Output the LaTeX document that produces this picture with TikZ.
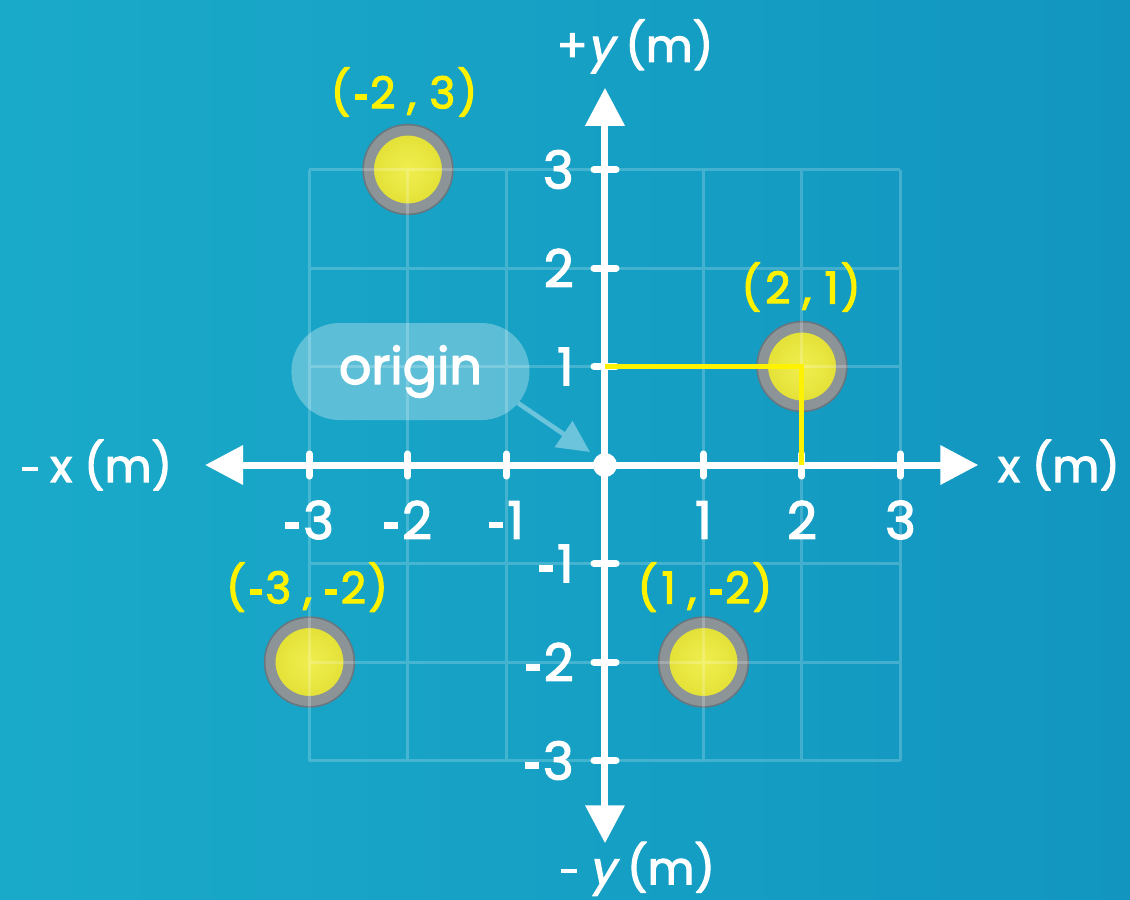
\documentclass[tikz,border=0pt]{standalone}
\usepackage{fontspec}
\setmainfont{Poppins}[FakeBold=2.6]
\newfontfamily\basefont{Poppins}[FakeBold=2.6]
\newfontfamily\coordfont{Poppins}[FakeBold=2.6]
\newfontfamily\slfont{Poppins}[FakeSlant=0.2,FakeBold=2.6]
\newcommand\hy{\rule[0.2em]{0.27em}{0.13em}\kern0.08em}
\newcommand\mdash{\rule[0.24em]{0.36em}{0.085em}}
\newcommand\cpair[2]{(\kern3pt#1\kern9pt,\kern10pt#2\kern1.5pt)}
\usetikzlibrary{arrows.meta}
\definecolor{bgL}{RGB}{26,170,201}
\definecolor{bgR}{RGB}{18,150,192}
\definecolor{ylab}{RGB}{255,242,0}
\definecolor{ballYL}{RGB}{240,238,80}
\definecolor{ballYD}{RGB}{226,224,52}
\definecolor{ringG}{RGB}{140,148,152}
\definecolor{ringD}{RGB}{105,118,126}
\definecolor{ptrC}{RGB}{108,196,220}
\begin{document}
\begin{tikzpicture}[x=73.875pt,y=73.875pt,
  gridline/.style={draw=white, draw opacity=0.2, line width=2.25pt},
  axisline/.style={draw=white, line width=5.25pt},
  tickmark/.style={draw=white, line width=5.25pt, line cap=round},
  ticklab/.style={text=white, inner sep=0pt, font=\basefont\fontsize{39}{40}\selectfont},
  axlab/.style={text=white, inner sep=0pt, font=\basefont\fontsize{34}{36}\selectfont},
  coordlab/.style={text=ylab, inner sep=0pt, font=\coordfont\fontsize{33}{34}\selectfont},
  ball/.style={circle, inner sep=0pt, minimum size=58.5pt, draw=ringG, line width=7.5pt,
    preaction={draw=ringD, line width=10pt}, inner color=ballYL, outer color=ballYD},
  yline/.style={draw=ylab, line width=3.75pt},
  bubble/.style={rounded corners=36pt, minimum width=178.5pt, minimum height=72.75pt,
    fill=white, fill opacity=0.3, text opacity=1, text=white, font=\basefont\fontsize{38}{40}\selectfont},
  ptr/.style={draw=ptrC, line width=3.5pt, -{Triangle[length=24pt,width=23pt]}}
]
\useasboundingbox (-6.142,-4.416) rectangle (5.330,4.721);
\shade[left color=bgL,right color=bgR] (-6.142,-4.416) rectangle (5.330,4.721);

% balls
\node[ball] (bA) at (-2,3) {};
\node[ball] (bB) at (2,1) {};
\node[ball] (bC) at (-3,-2) {};
\node[ball] (bD) at (1,-2) {};

% origin bubble
\node[bubble] (orig) at (-1.975,0.949) {origin};

% grid
\draw[gridline, step=1] (-3,-3) grid (3,3);

% pointer
\coordinate (ps) at (-0.883,0.629);
\coordinate (pt) at (-0.152,0.132);
\draw[ptr] (ps) -- (pt);

% axes
\coordinate (xl) at (-4.06,0);
\coordinate (xr) at (3.79,0);
\coordinate (yt) at (0,3.83);
\coordinate (yb) at (0,-3.84);
\draw[axisline, {Triangle[length=28.5pt,width=28.5pt]}-{Triangle[length=28.5pt,width=28.5pt]}] (xl) -- (xr);
\draw[axisline, {Triangle[length=28.5pt,width=28.5pt]}-{Triangle[length=28.5pt,width=28.5pt]}] (yb) -- (yt);

% ticks
\foreach \i in {-3,-2,-1,1,2,3}{
  \draw[tickmark] (\i,-0.112) -- (\i,0.112);
  \draw[tickmark] (-0.112,\i) -- (0.112,\i);
}

% yellow guide lines
\coordinate (y1) at (0,1);
\coordinate (x2) at (2,0);
\draw[yline] (y1) -- (bB.center) -- (x2);

% origin dot
\node[circle, fill=white, minimum size=18pt, inner sep=0pt] (O) at (0,0) {};

% tick labels
\node[ticklab] (tx1) at (-3,-0.558) {\hy3};
\node[ticklab] (tx2) at (-2,-0.558) {\hy2};
\node[ticklab] (tx3) at (-1,-0.558) {\hy1};
\node[ticklab] (tx4) at (1,-0.558) {1};
\node[ticklab] (tx5) at (2,-0.558) {2};
\node[ticklab] (tx6) at (3,-0.558) {3};
\node[ticklab, anchor=east] (ty1) at (-0.315,3) {3};
\node[ticklab, anchor=east] (ty2) at (-0.315,2) {2};
\node[ticklab, anchor=east] (ty3) at (-0.315,1) {1};
\node[ticklab, anchor=east] (ty4) at (-0.315,-1) {\hy1};
\node[ticklab, anchor=east] (ty5) at (-0.315,-2) {\hy2};
\node[ticklab, anchor=east] (ty6) at (-0.315,-3) {\hy3};

% axis labels
\node[axlab] (lxp) at (4.609,0) {x (m)};
\node[axlab] (lxm) at (-5.157,0) {\mdash\ x (m)};
\node[axlab] (lyp) at (0.305,4.25) {+{\slfont y} (m)};
\node[axlab] (lym) at (0.335,-4.10) {\mdash\ {\slfont y} (m)};

% coordinate labels
\node[coordlab] (cA) at (-2.04,3.787) {\cpair{\hy2}{3}};
\node[coordlab] (cB) at (1.99,1.807) {\cpair{2}{1}};
\node[coordlab] (cC) at (-3.025,-1.239) {\cpair{\hy3}{\hy2}};
\node[coordlab] (cD) at (1.015,-1.239) {\cpair{1}{\hy2}};
\end{tikzpicture}
\end{document}
